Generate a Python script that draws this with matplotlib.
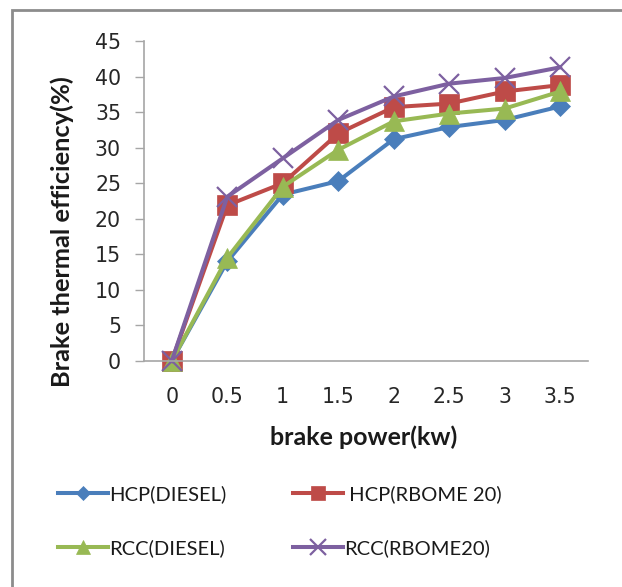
import matplotlib
matplotlib.use("Agg")
import matplotlib.pyplot as plt
from matplotlib.patches import Rectangle

categories = ["0", "0.5", "1", "1.5", "2", "2.5", "3", "3.5"]
hcp_diesel = [0, 14.0, 23.4, 25.3, 31.2, 32.9, 33.9, 35.8]
hcp_rbome20 = [0, 21.9, 25.0, 32.0, 35.7, 36.2, 37.9, 38.8]
rcc_diesel = [0, 14.5, 24.5, 29.7, 33.7, 34.8, 35.5, 37.9]
rcc_rbome20 = [0, 23.1, 28.5, 33.9, 37.2, 39.0, 39.8, 41.3]
series_names = ["HCP(DIESEL)", " HCP(RBOME 20)", "RCC(DIESEL)", "RCC(RBOME20)"]
y_ticks = [0, 5, 10, 15, 20, 25, 30, 35, 40, 45]

plt.rcParams['font.family'] = ['Lato', 'DejaVu Sans']

W, H = 622, 587
fig = plt.figure(figsize=(W / 100, H / 100), dpi=100)
fig.patch.set_facecolor("white")

# outer chart border (partially cropped)
fig.patches.append(Rectangle((12 / W, -0.05), 1.1, 1 - 10 / H + 0.05,
                             transform=fig.transFigure, fill=False,
                             edgecolor="#8c8c8c", linewidth=2.0))

ax = fig.add_axes([144 / W, 1 - 361 / H, (588 - 144) / W, (361 - 41) / H])
x = list(range(len(categories)))

styles = [
    (hcp_diesel, "#4a7ebb", "D", 10),
    (hcp_rbome20, "#be4b48", "s", 14),
    (rcc_diesel, "#98b954", "^", 14),
    (rcc_rbome20, "#7d60a0", "x", 15),
]
handles = []
for (vals, col, mk, ms), name in zip(styles, series_names):
    kw = dict(markeredgewidth=1.6) if mk == "x" else dict(markeredgecolor=col, markeredgewidth=0.5)
    h, = ax.plot(x, vals, color=col, linewidth=2.9, marker=mk, markersize=ms,
                 markerfacecolor=col, clip_on=False, label=name, **kw)
    handles.append(h)

ax.set_xlim(-0.5, len(categories) - 0.5)
ax.set_ylim(0, 45)
ax.set_yticks(y_ticks)
ax.set_xticks(x)
ax.set_xticklabels(categories)
for s in ["top", "right"]:
    ax.spines[s].set_visible(False)
for s in ["left", "bottom"]:
    ax.spines[s].set_color("#a6a6a6")
    ax.spines[s].set_linewidth(1.2)
ax.tick_params(axis="y", length=6.5, width=1.0, color="#a6a6a6", pad=10,
               labelsize=14.8, labelcolor="#262626")
ax.tick_params(axis="x", length=0, pad=19, labelsize=14.8, labelcolor="#262626")
for lbl in ax.get_xticklabels() + ax.get_yticklabels():
    lbl.set_family(['DejaVu Sans'])

fig.text(364 / W, 1 - 437 / H, "brake power(kw)", ha="center", va="center",
         fontsize=18, fontweight="bold", color="#1a1a1a")
fig.text(62 / W, 1 - 232 / H, "Brake thermal efficiency(%)", ha="center",
         va="center", rotation=90, fontsize=18.3, fontweight="bold", color="#1a1a1a")

order = [0, 2, 1, 3]
leg = fig.legend(handles=[handles[i] for i in order],
                 labels=[series_names[i] for i in order],
                 loc="center left", ncol=2,
                 bbox_to_anchor=(58 / W, 1 - 521 / H), frameon=False,
                 borderpad=0, borderaxespad=0,
                 fontsize=14.5, handlelength=2.5, handletextpad=0.05,
                 columnspacing=3.3, labelspacing=1.8, markerscale=0.75)
for t in leg.get_texts():
    t.set_color("#1a1a1a")

fig.savefig("out.png", dpi=100, facecolor="white")
